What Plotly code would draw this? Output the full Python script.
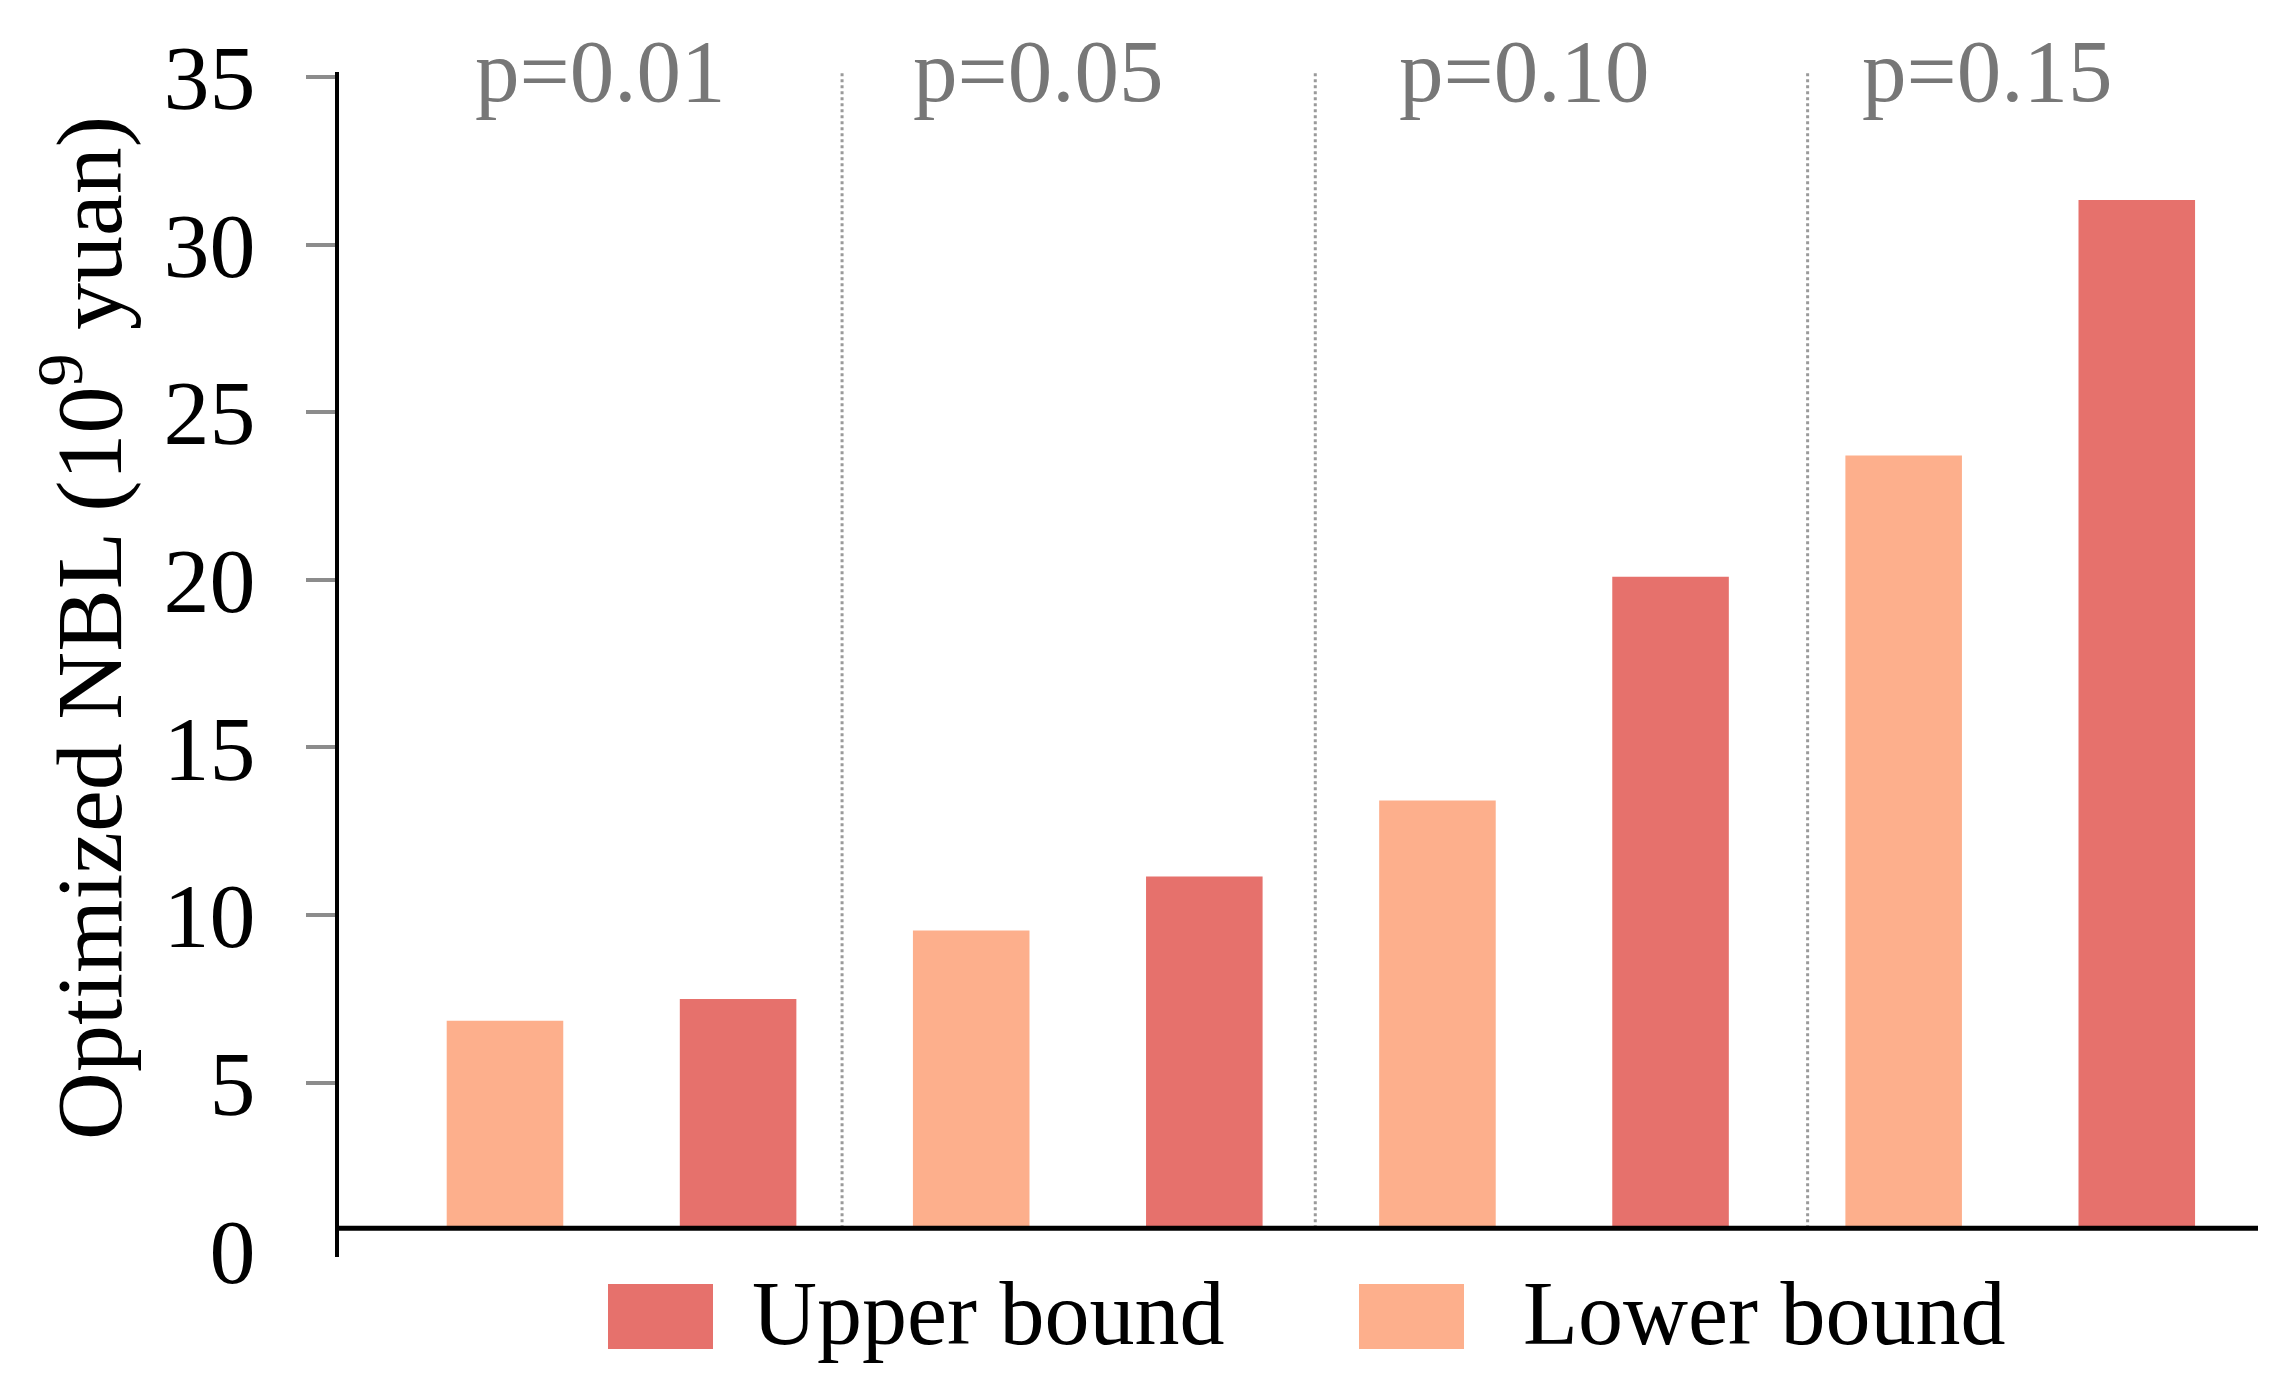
import plotly.graph_objects as go

# ---- data (in y-axis tick units) ----
groups = ["p=0.01", "p=0.05", "p=0.10", "p=0.15"]
lower_bound = [6.85, 9.54, 13.42, 23.71]
upper_bound = [7.50, 11.15, 20.09, 31.33]
y_ticks = [0, 5, 10, 15, 20, 25, 30, 35]
series_names = ["Upper bound", "Lower bound"]

# ---- style / layout constants ----
W, H = 2294, 1383
ML, MR, MT, MB = 339, 36, 72, 126
YR = [-0.2, 35.15]
XR = [-0.712, 7.52]
BASELINE = 0.66          # height at which the horizontal axis line is drawn
SEP_X = [1.446, 3.476, 5.588]
LABEL_XSHIFT = [-22, -50, -30, -33]
C_UP = "#E6716C"
C_LO = "#FDAF8C"
SERIF = "Liberation Serif, Times New Roman, serif"

x_lower = [2 * i for i in range(len(groups))]
x_upper = [2 * i + 1 for i in range(len(groups))]

fig = go.Figure()
fig.add_trace(go.Bar(x=x_lower, y=[v - BASELINE for v in lower_bound], base=BASELINE,
                     width=0.5, marker=dict(color=C_LO, line=dict(width=0)),
                     name=series_names[1], showlegend=False))
fig.add_trace(go.Bar(x=x_upper, y=[v - BASELINE for v in upper_bound], base=BASELINE,
                     width=0.5, marker=dict(color=C_UP, line=dict(width=0)),
                     name=series_names[0], showlegend=False))

plot_h = H - MT - MB
pw = W - ML - MR
def py(px):
    return 1 - (px - MT) / plot_h
def pxp(px):
    return (px - ML) / pw

shapes = []
# horizontal axis line
shapes.append(dict(type="line", xref="paper", yref="y", x0=0, x1=1, y0=BASELINE, y1=BASELINE,
                   line=dict(color="black", width=5), layer="above"))
# dotted group separators
for sx in SEP_X:
    shapes.append(dict(type="line", xref="x", yref="y", x0=sx, x1=sx, y0=BASELINE, y1=YR[1],
                       line=dict(color="#9a9a9a", width=3, dash="dot"), layer="below"))
# the zero tick is nearly invisible in the reference
shapes.append(dict(type="rect", xref="paper", yref="paper",
                   x0=pxp(300), x1=pxp(335), y0=py(1256), y1=py(1244),
                   fillcolor="white", line=dict(width=0), layer="above"))

# manual legend squares
shapes.append(dict(type="rect", xref="paper", yref="paper",
                   x0=pxp(608), x1=pxp(713), y0=py(1349), y1=py(1284),
                   fillcolor=C_UP, line=dict(width=0)))
shapes.append(dict(type="rect", xref="paper", yref="paper",
                   x0=pxp(1359), x1=pxp(1464), y0=py(1349), y1=py(1284),
                   fillcolor=C_LO, line=dict(width=0)))

annotations = []
for i, g in enumerate(groups):
    annotations.append(dict(x=2 * i + 0.5, y=py(71), xref="x", yref="paper", text=g,
                            showarrow=False, xanchor="center", yanchor="middle",
                            xshift=LABEL_XSHIFT[i],
                            font=dict(family=SERIF, size=89, color="#777777")))
annotations.append(dict(x=pxp(750), y=py(1313), xref="paper", yref="paper", text=series_names[0],
                        showarrow=False, xanchor="left", yanchor="middle",
                        font=dict(family=SERIF, size=90, color="black")))
annotations.append(dict(x=pxp(1521), y=py(1313), xref="paper", yref="paper", text=series_names[1],
                        showarrow=False, xanchor="left", yanchor="middle",
                        font=dict(family=SERIF, size=90, color="black")))
annotations.append(dict(x=pxp(82), y=py(628), xref="paper", yref="paper",
                        text="Optimized NBL (10<sup>9</sup> yuan)", textangle=-90,
                        showarrow=False, xanchor="center", yanchor="middle",
                        font=dict(family=SERIF, size=94, color="black")))

fig.update_layout(
    width=W, height=H,
    margin=dict(l=ML, r=MR, t=MT, b=MB, pad=0),
    paper_bgcolor="white", plot_bgcolor="white",
    barmode="overlay",
    shapes=shapes, annotations=annotations,
    showlegend=False,
    xaxis=dict(range=XR, visible=False, showgrid=False, zeroline=False),
    yaxis=dict(range=YR, tickvals=y_ticks, ticktext=[str(t) for t in y_ticks],
               showline=True, linecolor="black", linewidth=4,
               ticks="outside", ticklen=29, tickwidth=4, tickcolor="#8c8c8c",
               ticklabelstandoff=32,
               tickfont=dict(family=SERIF, size=92, color="black"),
               showgrid=False, zeroline=False),
)

fig.write_html("out.html", config={"displayModeBar": False},
               post_script="document.body.style.margin='0px';")
